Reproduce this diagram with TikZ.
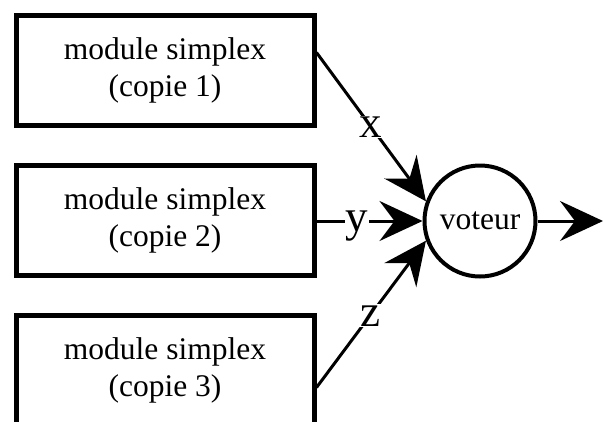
\documentclass[tikz,border=0pt]{standalone}
\usepackage{fontspec}
\setmainfont{Liberation Serif}
\usetikzlibrary{arrows.meta}
\tikzset{
  modbox/.style={draw, line width=5pt, minimum width=298pt, minimum height=110pt,
    align=center, inner sep=0pt, font=\fontsize{31.5}{37}\selectfont},
  votenode/.style={draw, circle, line width=4pt, minimum size=111pt, inner sep=0pt,
    font=\fontsize{31.5}{36}\selectfont},
  arr/.style={line width=3pt, -{Stealth[length=43pt,width=40pt,inset=15pt]}},
  lbl/.style={fill=white, inner sep=1pt, anchor=base, yshift=-10.5pt, font=\fontsize{45}{50}\selectfont},
}
\begin{document}
\begin{tikzpicture}[x=1pt,y=-1pt]
\useasboundingbox (0,0) rectangle (603,421);
\clip (0,0) rectangle (603,421);
\node[modbox] (b1) at (165,70) {module simplex\\(copie 1)};
\node[modbox] (b2) at (165,220) {module simplex\\(copie 2)};
\node[modbox] (b3) at (165,370) {module simplex\\(copie 3)};
\node[votenode] (v) at (480,221) {voteur};
\coordinate (out) at (603,221);
\draw[arr] ([yshift=17.5pt]b1.east) -- node[lbl, pos=0.5] {x} (v.160);
\draw[arr] (b2.east |- v.west) -- node[lbl, pos=0.38] {y} (v.west);
\draw[arr] ([yshift=-17.5pt]b3.east) -- node[lbl, pos=0.49] {z} (v.200);
\draw[arr] (v.east) -- (out);
\end{tikzpicture}
\end{document}
